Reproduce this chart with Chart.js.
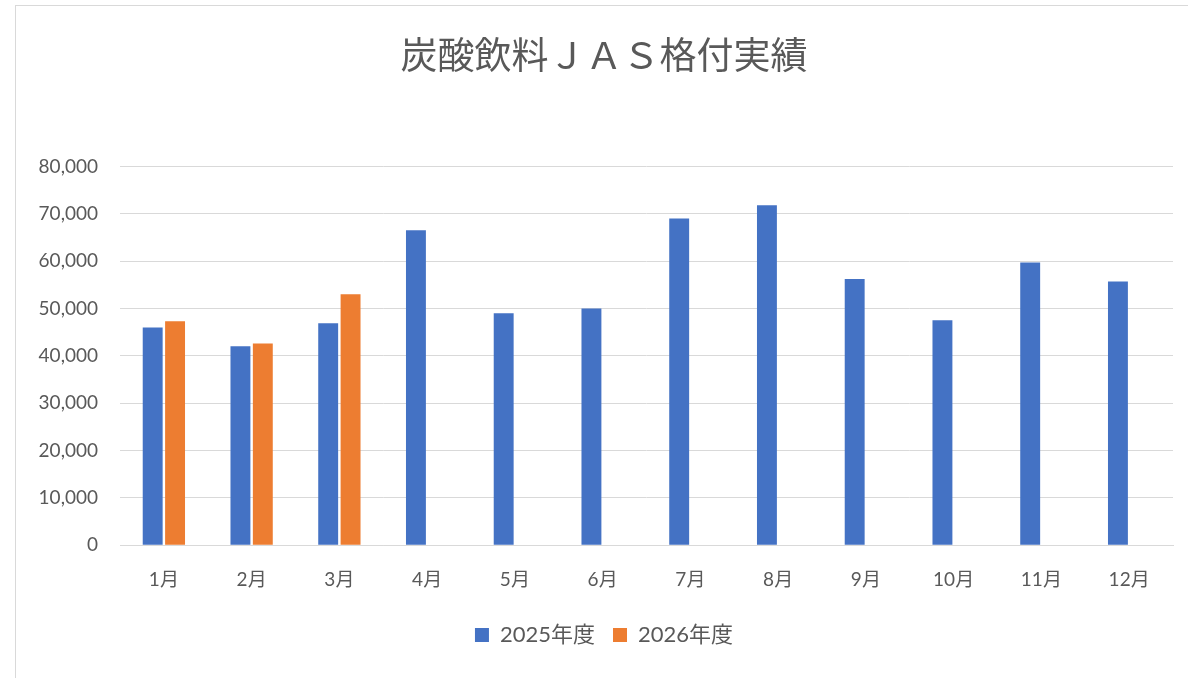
<!DOCTYPE html>
<html>
<head>
<meta charset="utf-8">
<style>
  html, body { margin: 0; padding: 0; background: #fff; overflow: hidden; width: 1188px; height: 678px; }
  #frame { position: absolute; left: 15px; top: 5px; width: 1200px; height: 700px; border-left: 1px solid #d9d9d9; border-top: 1px solid #d9d9d9; }
  #chart-container { position: absolute; left: 16px; top: 6px; width: 1188px; height: 672px; }
</style>
</head>
<body>
<div id="frame"></div>
<div id="chart-container"><canvas id="chart"></canvas></div>
<script src="https://cdn.jsdelivr.net/npm/chart.js"></script>
<script>
const months = ['1月', '2月', '3月', '4月', '5月', '6月', '7月', '8月', '9月', '10月', '11月', '12月'];
const fy2025 = [46000, 42000, 46900, 66500, 49000, 50000, 69000, 71800, 56200, 47500, 59700, 55700];
const fy2026 = [47300, 42600, 53000, null, null, null, null, null, null, null, null, null];

const textColor = '#595959';
const fontFamily = 'Lato, "Noto Sans CJK JP", sans-serif';

new Chart(document.getElementById('chart').getContext('2d'), {
    type: 'bar',
    data: {
        labels: months,
        datasets: [
            { label: '2025年度', data: fy2025, backgroundColor: '#4472C4' },
            { label: '2026年度', data: fy2026, backgroundColor: '#ED7D31' }
        ]
    },
    options: {
        responsive: true,
        maintainAspectRatio: false,
        animation: false,
        categoryPercentage: 0.51,
        barPercentage: 0.89,
        layout: { padding: { left: 19, right: 31, top: 8, bottom: 22 } },
        plugins: {
            title: {
                display: true,
                text: '炭酸飲料ＪＡＳ格付実績',
                color: textColor,
                font: { family: fontFamily, size: 37, weight: 'normal' },
                padding: { top: 21, bottom: 87 }
            },
            legend: {
                position: 'bottom',
                labels: {
                    color: textColor,
                    font: { family: fontFamily, size: 22 },
                    boxWidth: 14,
                    boxHeight: 14,
                    padding: 18
                }
            },
            tooltip: { enabled: false }
        },
        scales: {
            x: {
                grid: { display: false },
                border: { color: '#d9d9d9' },
                ticks: { color: textColor, font: { family: fontFamily, size: 19 }, padding: 15 }
            },
            y: {
                min: 0,
                max: 80000,
                afterFit: axis => { axis.width = 85; },
                grid: { color: '#d9d9d9', drawTicks: false },
                border: { display: false },
                ticks: {
                    stepSize: 10000,
                    color: textColor,
                    font: { family: fontFamily, size: 19 },
                    padding: 22,
                    callback: v => v.toLocaleString('en-US')
                }
            }
        }
    }
});
</script>
</body>
</html>
